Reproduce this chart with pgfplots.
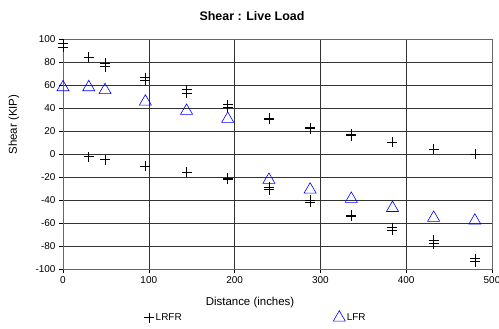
\documentclass[border=0pt]{standalone}
\usepackage{pgfplots}
\pgfplotsset{compat=1.18}
\usepackage{fontspec}
\setmainfont{Liberation Sans}
\begin{document}
\begin{tikzpicture}[x=1bp,y=1bp]
\node[font=\fontsize{12.5}{14}\selectfont\bfseries] at (252,312) {Shear : Live Load};
\begin{axis}[
  at={(63bp,59bp)}, anchor=south west,
  width=429bp, height=230bp, scale only axis,
  xmin=0, xmax=500, ymin=-100, ymax=100,
  xtick={0,100,...,500}, ytick={-100,-80,...,100},
  grid=major,
  major grid style={black!80, line width=0.6pt},
  axis line style={black!60, line width=0.8pt},
  tick align=outside, major tick length=4bp,
  tick style={black, line width=0.5pt},
  xtick pos=bottom, ytick pos=left,
  /pgf/number format/assume math mode=true,
  ticklabel style={font=\fontsize{10}{11}\selectfont},
  xlabel={Distance (inches)}, ylabel={Shear (KIP)},
  label style={font=\fontsize{11.5}{13}\selectfont},
  xlabel style={at={(rel axis cs:0.436,-0.1465)}, anchor=center},
  ylabel style={at={(rel axis cs:-0.1142,0.628)}, anchor=center},
  clip=false,
  legend columns=2,
  legend image code/.code={\draw[#1] plot coordinates {(0bp,0bp)};},
  legend style={draw=none, fill=none, inner sep=0pt,
    at={(rel axis cs:0.189,-0.2087)}, anchor=west,
    font=\fontsize{10}{11}\selectfont,
    nodes={inner sep=1.5bp},
    /tikz/every even column/.append style={column sep=150bp}},
  legend cell align=left,
]
\addplot[only marks, mark=+, mark size=5, black, line width=0.6pt] coordinates {
(0,96) (0,93)
(30,84) (30,-2.3)
(49,79) (49,76) (49,-5)
(96,66.5) (96,64) (96,-10.5)
(144,56) (144,53) (144,-16)
(192,43) (192,41) (192,-21) (192,-22)
(240,31) (240,30) (240,-29) (240,-31)
(288,23) (288,22) (288,-40) (288,-42)
(336,17) (336,16) (336,-53) (336,-54)
(384,10.5) (384,-64) (384,-66)
(432,4.5) (432,-75) (432,-78)
(480,0) (480,-91) (480,-93.5)
};
\addlegendentry{LRFR}
\addplot[only marks, mark=triangle, mark size=7, blue, line width=0.6pt] coordinates {
(0,58) (30,58) (49,55.5) (96,45.5) (144,37.5) (192,30.5)
(240,-22.5) (288,-31) (336,-39) (384,-47) (432,-55.5) (480,-58)
};
\addlegendentry{LFR}
\end{axis}
\pgfresetboundingbox
\useasboundingbox (0,0) rectangle (499,328);
\end{tikzpicture}
\end{document}
